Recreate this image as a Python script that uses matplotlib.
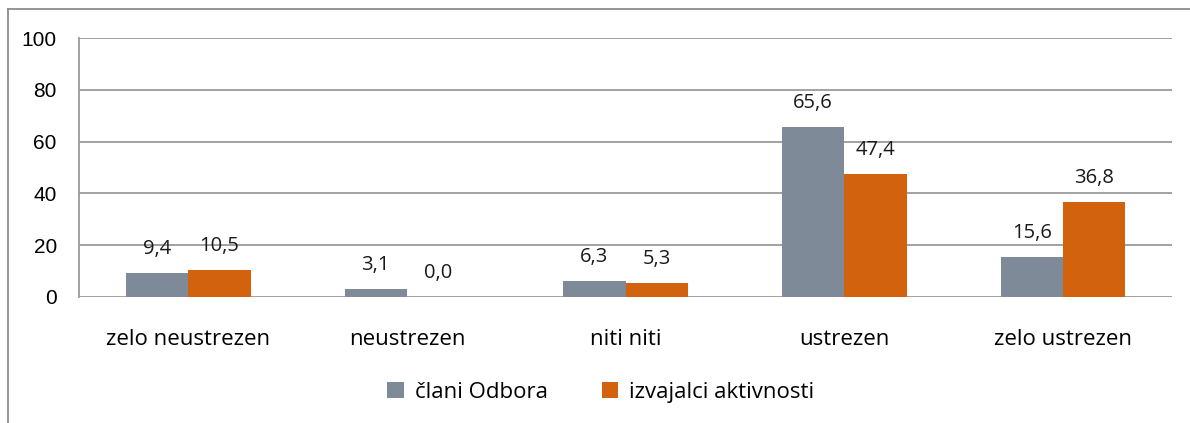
import matplotlib.pyplot as plt
import numpy as np
from matplotlib.lines import Line2D

categories = ['zelo neustrezen', 'neustrezen', 'niti niti', 'ustrezen', 'zelo ustrezen']
clani = [9.4, 3.1, 6.3, 65.6, 15.6]
izvajalci = [10.5, 0.0, 5.3, 47.4, 36.8]
series_names = ['člani Odbora', 'izvajalci aktivnosti']
yticks = [0, 20, 40, 60, 80, 100]

gray = '#7F8A99'
orange = '#D2620E'
grid_col = '#9A9A9A'
lab_font = 'Open Sans'

fig = plt.figure(figsize=(11.9, 4.23), dpi=100)
ax = fig.add_axes([0.0664, 0.298, 0.9186, 0.612])

x = np.arange(len(categories))
w = 0.285
b1 = ax.bar(x - w / 2, clani, w, color=gray, label=series_names[0])
b2 = ax.bar(x + w / 2, izvajalci, w, color=orange, label=series_names[1])

for bars, vals in ((b1, clani), (b2, izvajalci)):
    for r, v in zip(bars, vals):
        ax.annotate(f'{v:.1f}'.replace('.', ','), (r.get_x() + r.get_width() / 2, v),
                    xytext=(0, 10), textcoords='offset points', ha='center', va='bottom',
                    fontsize=14.5, family=lab_font, color='#1a1a1a')

ax.set_xlim(-0.5, len(categories) - 0.5)
ax.set_ylim(0, 100)
ax.set_yticks(yticks)
ax.set_yticklabels([str(t) for t in yticks], fontsize=15, family='Liberation Sans')
ax.set_xticks(x)
ax.set_xticklabels(categories, fontsize=16, family=lab_font)
ax.tick_params(axis='both', length=0)
ax.tick_params(axis='y', pad=16)
ax.tick_params(axis='x', pad=23)
ax.yaxis.grid(True, color=grid_col, linewidth=1.3)
ax.set_axisbelow(True)
for s in ['top', 'right', 'bottom']:
    ax.spines[s].set_visible(False)
ax.spines['left'].set_color(grid_col)
ax.spines['left'].set_linewidth(1.3)

# outer chart frame (top and left edges visible)
fig.add_artist(Line2D([8 / 1190, 8 / 1190], [0, 1 - 9 / 423], color='#8C8C8C', lw=1.3, transform=fig.transFigure))
fig.add_artist(Line2D([8 / 1190, 1], [1 - 9 / 423, 1 - 9 / 423], color='#8C8C8C', lw=1.3, transform=fig.transFigure))

leg = fig.legend(loc='center', bbox_to_anchor=(0.505, 1 - 392 / 423), ncol=2, frameon=False,
                 prop={'family': lab_font, 'size': 16}, handlelength=0.75, handleheight=0.75,
                 handletextpad=0.5, columnspacing=2.4)

fig.savefig('out.png', dpi=100)
